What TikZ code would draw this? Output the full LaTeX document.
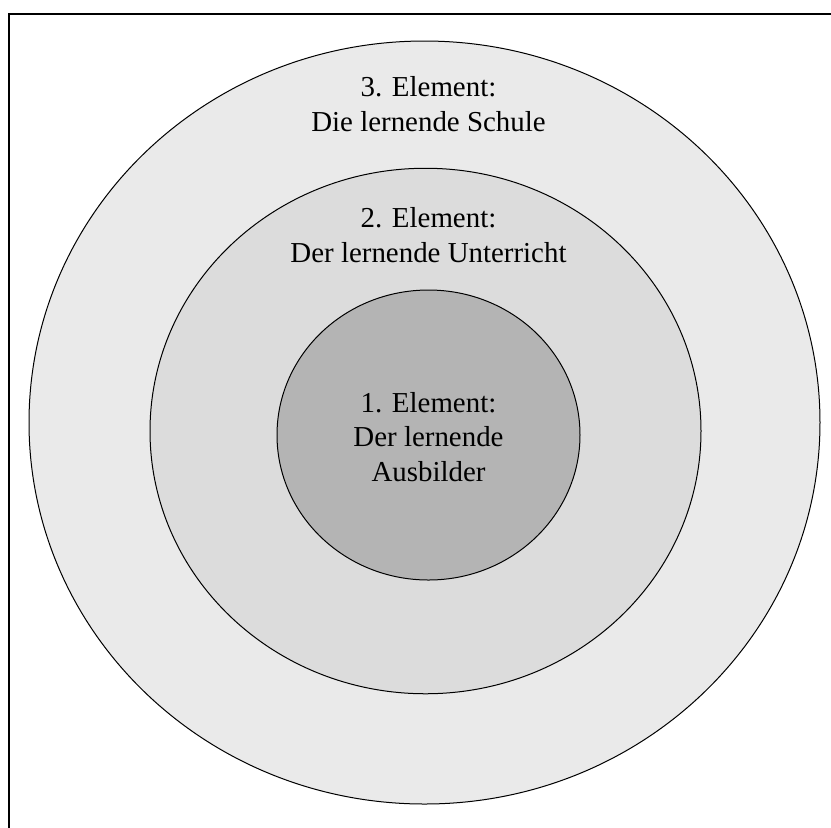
\documentclass[tikz,border=0pt]{standalone}
\usepackage{fontspec}
\setmainfont{Liberation Serif}
\usepackage{xcolor}
\usetikzlibrary{shapes.geometric,positioning}
\definecolor{ringdrei}{RGB}{234,234,234}
\definecolor{ringzwei}{RGB}{220,220,220}
\definecolor{ringeins}{RGB}{180,180,180}
\begin{document}
\begin{tikzpicture}[x=0.5pt,y=-0.5pt,
	ring/.style={ellipse,draw=black,line width=0.5pt,inner sep=0pt,outer sep=0pt},
	txt/.style={align=center,inner sep=0pt,font=\fontsize{14.45}{17.3}\selectfont}]
			\useasboundingbox (0,0) rectangle (831,827);
			\clip (0,0) rectangle (831,827);
			% Rahmen
			\draw[line width=1pt] (9,14.3) rectangle (880,880);
			% Kreise
			\node[ring,fill=ringdrei,minimum width=395.5pt,minimum height=381.5pt] (schule) at (424.5,422.5) {};
			\node[ring,fill=ringzwei,minimum width=275.5pt,minimum height=262.75pt] (unterricht) at (425.5,431) {};
			\node[ring,fill=ringeins,minimum width=151.5pt,minimum height=145pt] (ausbilder) at (428.5,435) {};
			% Texte
			\node[txt] (tschule) at (428.5,104) {3. Element:\\Die lernende Schule};
			\node[txt] (tunterricht) at (428.5,235) {2. Element:\\Der lernende Unterricht};
			\node[txt] (tausbilder) at (428.5,437) {1. Element:\\Der lernende\\Ausbilder};
		\end{tikzpicture}
\end{document}
